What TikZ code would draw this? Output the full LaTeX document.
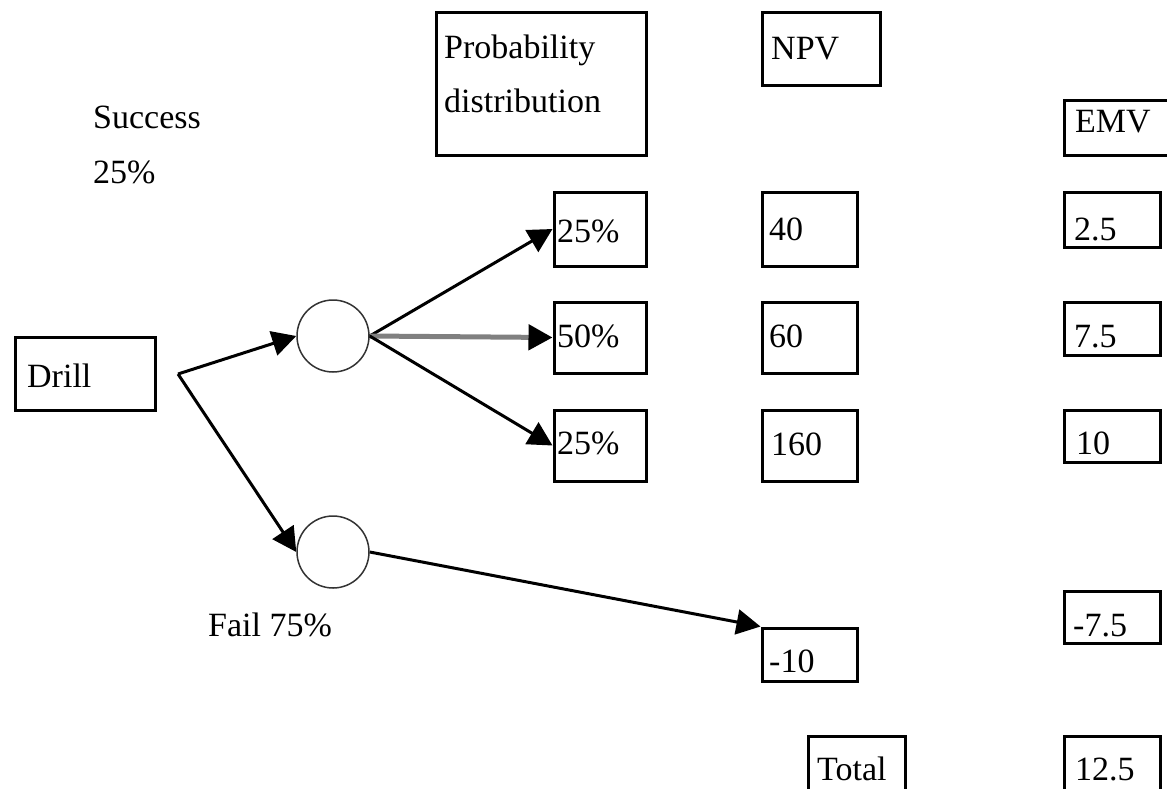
\documentclass[tikz,border=0pt]{standalone}
\usepackage{fontspec}
\setmainfont{Liberation Serif}
\usetikzlibrary{arrows.meta}
\tikzset{
  box/.style={draw=black, line width=3pt, inner sep=0pt},
  txt/.style={anchor=base west, inner sep=0pt, font=\fontsize{34}{40}\selectfont},
  chance/.style={circle, draw=black!80, line width=1.5pt, minimum size=72pt, inner sep=0pt},
  link/.style={line width=3pt, -{Triangle[length=24pt,width=25pt]}},
  graylink/.style={line width=5pt, draw=black!50, -{Triangle[length=24pt,width=25pt,black]}}
}
\begin{document}
\begin{tikzpicture}[x=1pt,y=-1pt]
\useasboundingbox (0,0) rectangle (1167,788);
% boxes
\node[box, minimum width=210pt, minimum height=143pt] (prob) at (541,83.5) {};
\node[box, minimum width=118pt, minimum height=73pt] (npv) at (821,48.5) {};
\node[box, minimum width=116pt, minimum height=55pt] (emv) at (1122,127.5) {};
\node[box, minimum width=92pt, minimum height=74pt] (pa) at (600,229) {};
\node[box, minimum width=95pt, minimum height=74pt] (na) at (809.5,229) {};
\node[box, minimum width=96pt, minimum height=55pt] (ea) at (1112,219.5) {};
\node[box, minimum width=92pt, minimum height=71pt] (pb) at (600,337.5) {};
\node[box, minimum width=95pt, minimum height=71pt] (nb) at (809.5,337.5) {};
\node[box, minimum width=96pt, minimum height=53pt] (eb) at (1112,328.5) {};
\node[box, minimum width=92pt, minimum height=71pt] (pc) at (600,445.5) {};
\node[box, minimum width=95pt, minimum height=71pt] (nc) at (809.5,445.5) {};
\node[box, minimum width=96pt, minimum height=52pt] (ec) at (1112,436) {};
\node[box, minimum width=140pt, minimum height=73pt] (drill) at (85,373.5) {};
\node[box, minimum width=95pt, minimum height=53pt] (nd) at (809.5,654.5) {};
\node[box, minimum width=96pt, minimum height=52pt] (ed) at (1112,617) {};
\node[box, minimum width=97pt, minimum height=64pt] (total) at (856.5,768) {};
\node[box, minimum width=96pt, minimum height=64pt] (etot) at (1112,768) {};
% chance nodes
\node[chance] (c1) at (333,336) {};
\node[chance] (c2) at (333,552) {};
\coordinate (ds) at (178,374);
% texts
\node[txt] at (93,128) {Success};
\node[txt] at (93,183) {25\%};
\node[txt] at (444,58) {Probability};
\node[txt] at (444,112) {distribution};
\node[txt] at (771,59) {NPV};
\node[txt] at (1075,132) {EMV};
\node[txt] at (557,242) {25\%};
\node[txt] at (769,240) {40};
\node[txt] at (1074,240) {2.5};
\node[txt] at (557,347) {50\%};
\node[txt] at (769,347) {60};
\node[txt] at (1074,347) {7.5};
\node[txt] at (557,454) {25\%};
\node[txt] at (771,455) {160};
\node[txt] at (1076,454) {10};
\node[txt] at (27,387) {Drill};
\node[txt] at (208,636) {Fail 75\%};
\node[txt] at (769,672) {-10};
\node[txt] at (1073,636) {-7.5};
\node[txt] at (817,780) {Total};
\node[txt] at (1075,780) {12.5};
% connectors
\draw[link] (ds) -- (c1.west);
\draw[link] (ds) -- (c2.west);
\draw[link] (c1.east) -- (pa.west);
\draw[graylink] (c1.east) -- (pb.west);
\draw[link] (c1.east) -- (pc.west);
\draw[link] (c2.east) -- (nd.north west);
\end{tikzpicture}
\end{document}
